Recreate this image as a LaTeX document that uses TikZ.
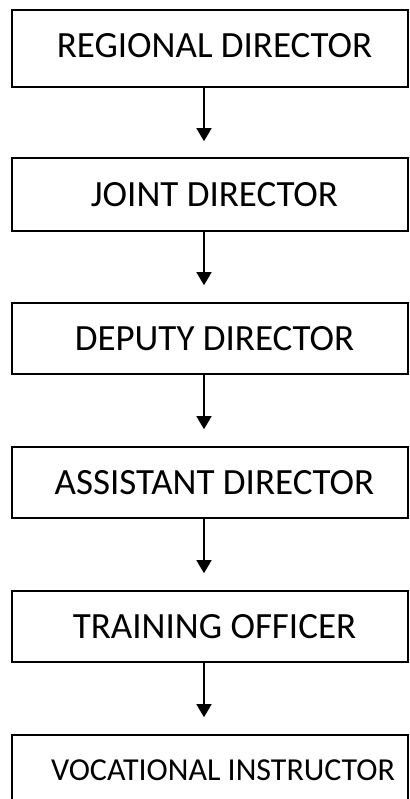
\documentclass[tikz,border=0pt]{standalone}
\usepackage{fontspec}
\setmainfont{Carlito}
\usetikzlibrary{arrows.meta}
\tikzset{post/.style={draw,line width=1.6pt,minimum width=396pt,minimum height=71pt,inner sep=0pt,text height=24pt,text depth=0pt,font=\fontsize{37}{44}\selectfont,execute at begin node=\hspace*{9pt}},
link/.style={line width=1.6pt,-{Triangle[width=15pt,length=13pt]},shorten >=17pt}}
\begin{document}
\begin{tikzpicture}[x=1pt,y=1pt]
\useasboundingbox(0,0)rectangle(409,799);
\node[post,minimum height=77pt,text depth=5pt](rd)at(210,750.5){REGIONAL DIRECTOR};
\node[post,minimum height=73pt](jd)at(210,604.5){JOINT DIRECTOR};
\node[post](dd)at(210,460.5){DEPUTY DIRECTOR};
\node[post](ad)at(210,316.5){ASSISTANT DIRECTOR};
\node[post](to)at(210,172.5){TRAINING OFFICER};
\node[post,text height=21pt,font=\fontsize{32}{38}\selectfont,execute at begin node=\hspace*{17pt}](vi)at(210,28.5){VOCATIONAL INSTRUCTOR};
\coordinate(axis)at(204,0);
\draw[link,shorten >=16pt](rd.south-|axis)--(jd.north-|axis);
\draw[link](jd.south-|axis)--(dd.north-|axis);
\draw[link](dd.south-|axis)--(ad.north-|axis);
\draw[link](ad.south-|axis)--(to.north-|axis);
\draw[link](to.south-|axis)--(vi.north-|axis);
\end{tikzpicture}
\end{document}
